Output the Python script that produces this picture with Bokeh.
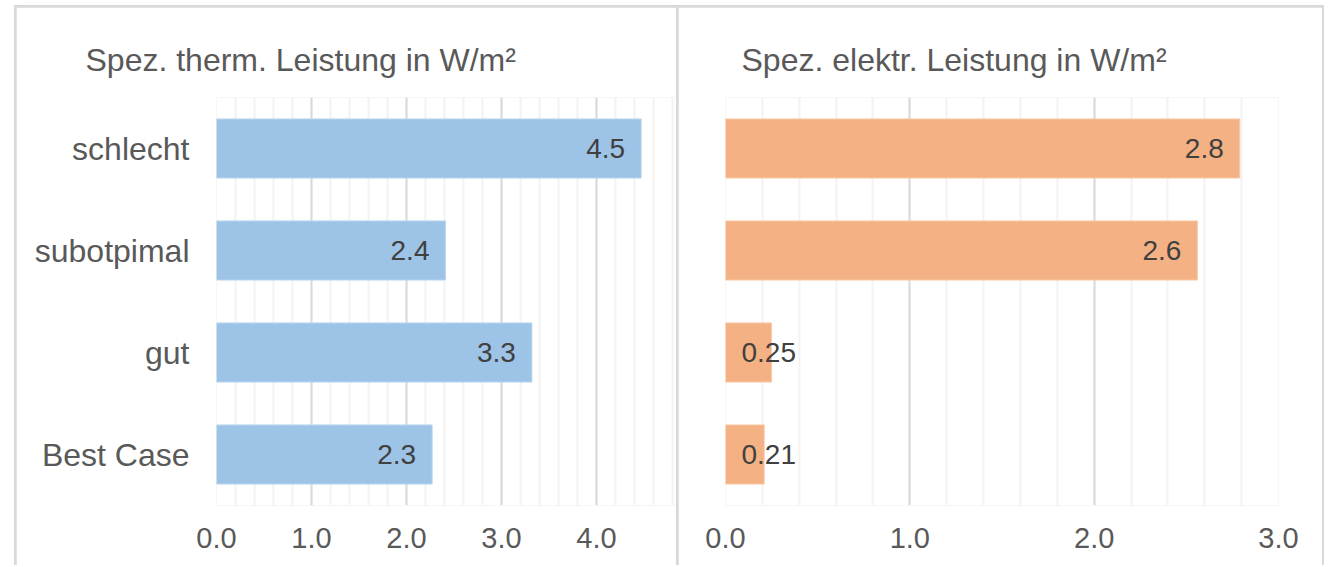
from bokeh.plotting import figure
from bokeh.models import (FactorRange, Range1d, SingleIntervalTicker, NumeralTickFormatter,
                          ColumnDataSource)
from bokeh.layouts import row
from bokeh.embed import file_html
from bokeh.resources import INLINE
from bokeh.core.properties import value

# ---- data ----
categories = ["schlecht", "subotpimal", "gut", "Best Case"]
therm_values = [4.47, 2.41, 3.32, 2.27]
therm_labels = ["4.5", "2.4", "3.3", "2.3"]
elec_values = [2.79, 2.56, 0.25, 0.21]
elec_labels = ["2.8", "2.6", "0.25", "0.21"]
therm_title = "Spez. therm. Leistung in W/m²"
elec_title = "Spez. elektr. Leistung in W/m²"

FONT = "Liberation Sans"
TEXT = "#595959"
VAL = "#404040"
HEIGHT = 558
FRAME_TOP = 90
FRAME_BOTTOM = 498
VAL_SIZE = 28


def panel(values, labels, title, color, line_color, x_end, width, frame_left, frame_right_pad,
          title_offset, show_y, margin):
    factors = list(reversed(categories))
    p = figure(width=width, height=HEIGHT, y_range=FactorRange(factors=factors),
               x_range=Range1d(0, x_end), output_backend="svg", toolbar_location=None,
               min_border_left=frame_left, min_border_right=frame_right_pad,
               min_border_top=FRAME_TOP, min_border_bottom=HEIGHT - FRAME_BOTTOM,
               margin=margin)
    p.outline_line_color = None
    p.background_fill_color = "white"
    p.border_fill_color = "white"

    p.title.text = title
    p.title.align = "left"
    p.title.offset = title_offset
    p.title.standoff = 40
    p.title.text_font = FONT
    p.title.text_font_size = "32px"
    p.title.text_font_style = "normal"
    p.title.text_color = TEXT

    src = ColumnDataSource(dict(cat=categories, val=values, lab=labels))
    p.hbar(y="cat", right="val", left=0, height=0.58, source=src,
           fill_color=color, line_color=line_color, line_width=1)

    # value labels: inside end when they fit, else starting at the bar base
    frame_w = width - frame_left - frame_right_pad
    ppu = frame_w / x_end
    inside, outside = dict(cat=[], val=[], lab=[]), dict(cat=[], val=[], lab=[])
    for c, v, l in zip(categories, values, labels):
        tw = sum(0.278 if ch == "." else 0.556 for ch in l) * VAL_SIZE
        d = inside if v * ppu > tw + 32 else outside
        d["cat"].append(c); d["val"].append(v); d["lab"].append(l)
    p.text(x="val", y="cat", text="lab", source=ColumnDataSource(inside),
           text_align="right", text_baseline="middle", x_offset=-16,
           text_font=value(FONT), text_font_size=f"{VAL_SIZE}px", text_color=VAL)
    outside["zero"] = [0] * len(outside["cat"])
    p.text(x="zero", y="cat", text="lab", source=ColumnDataSource(outside),
           text_align="left", text_baseline="middle", x_offset=16,
           text_font=value(FONT), text_font_size=f"{VAL_SIZE}px", text_color=VAL)

    ax = p.xaxis[0]
    ax.ticker = SingleIntervalTicker(interval=1, num_minor_ticks=5)
    ax.formatter = NumeralTickFormatter(format="0.0")
    ax.axis_line_color = None
    ax.major_tick_line_color = None
    ax.minor_tick_line_color = None
    ax.major_label_standoff = 16
    ax.major_label_text_font = FONT
    ax.major_label_text_font_size = "29px"
    ax.major_label_text_color = TEXT

    p.xgrid.grid_line_color = "#d9d9d9"
    p.xgrid.grid_line_width = 2
    p.xgrid.minor_grid_line_color = "#f2f2f2"
    p.xgrid.minor_grid_line_width = 2
    p.ygrid.grid_line_color = None

    ya = p.yaxis[0]
    if show_y:
        ya.axis_line_color = None
        ya.major_tick_line_color = None
        ya.minor_tick_line_color = None
        ya.major_label_standoff = 21
        ya.major_label_text_font = FONT
        ya.major_label_text_font_size = "32px"
        ya.major_label_text_color = TEXT
    else:
        ya.visible = False
    return p


# gray row background shows through the 2px child margins -> chart borders
p1 = panel(therm_values, therm_labels, therm_title, "#9DC3E6", "#BDD7EE", 4.842, 660, 200, 0,
           -131, True, (2, 0, 0, 2))
p2 = panel(elec_values, elec_labels, elec_title, "#F4B183", "#F8CBAD", 3.0, 644, 47, 44,
           16, False, (2, 2, 0, 2))

layout = row(p1, p2, margin=(5, 0, 0, 14), styles={"background-color": "#d9d9d9"})
open("out.html", "w").write(file_html(layout, INLINE))
